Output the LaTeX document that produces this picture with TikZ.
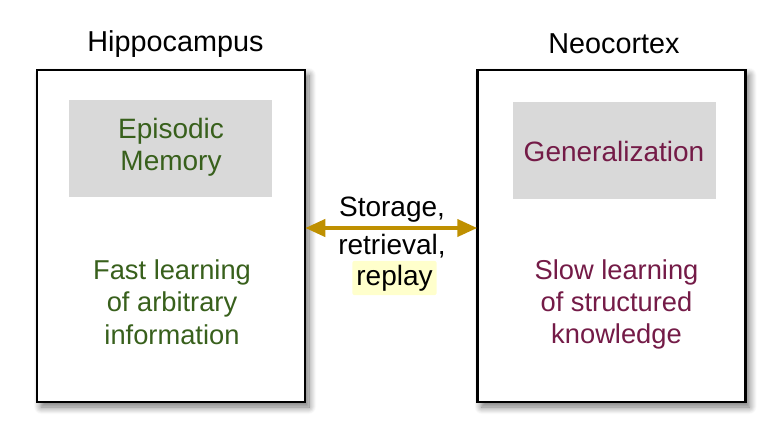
\documentclass[tikz,border=0pt]{standalone}
\usepackage{fontspec}
\setmainfont{Liberation Sans}
\usetikzlibrary{arrows.meta,shadows.blur}
\definecolor{hgreen}{HTML}{38601C}
\definecolor{nmaroon}{HTML}{741B47}
\definecolor{graybox}{HTML}{D9D9D9}
\definecolor{gold}{HTML}{BF9000}
\definecolor{hilite}{HTML}{FFFFCC}
\tikzset{
  region/.style={draw=black, line width=2.5pt, fill=white, minimum width=268pt, minimum height=332pt, inner sep=0pt,
    blur shadow={shadow xshift=4pt, shadow yshift=-5pt, shadow blur steps=10, shadow blur radius=7pt, shadow opacity=55}},
  concept/.style={fill=graybox, minimum width=203pt, minimum height=97pt, inner sep=0pt},
  txt/.style={font=\fontsize{28}{32.5}\selectfont, align=center, inner sep=0pt},
  small/.style={font=\fontsize{27.3}{32.3}\selectfont},
  title/.style={font=\fontsize{28.8}{32}\selectfont, inner sep=0pt},
  link/.style={draw=gold, line width=4pt, {Triangle[length=20pt,width=17pt]}-{Triangle[length=20pt,width=17pt]}, shorten <=-1pt, shorten >=-1pt}
}
\begin{document}
\begin{tikzpicture}[x=1pt,y=-1pt]
\useasboundingbox (0,0) rectangle (773,437);
\node[region] (hip) at (171,236) {};
\node[region] (neo) at (611.5,236) {};
\node[title] (hipt) at (175.5,44) {Hippocampus};
\node[title] (neot) at (614,44) {Neocortex};
\node[concept] (epi) at (170.5,148.5) {};
\node[txt, text=hgreen] (epit) at (171,147.5) {Episodic\\Memory};
\node[concept] (gen) at (614.5,150) {};
\node[txt, text=nmaroon] (gent) at (614,151) {Generalization};
\node[txt, small, text=hgreen] (fast) at (172,302) {Fast learning\\of arbitrary\\information};
\node[txt, small, text=nmaroon] (slow) at (616.5,304.5) {Slow learning\\of structured\\knowledge};
\coordinate (arr) at (392,228);
\draw[link] (hip.east |- arr) -- (neo.west |- arr);
\node[txt] (st) at (392,210) {Storage,};
\node[txt] (re) at (392,246) {retrieval,};
\node[txt, fill=hilite, inner xsep=4pt, inner ysep=4pt, rounded corners=2pt] (rp) at (394.5,278) {replay};
\end{tikzpicture}
\end{document}
